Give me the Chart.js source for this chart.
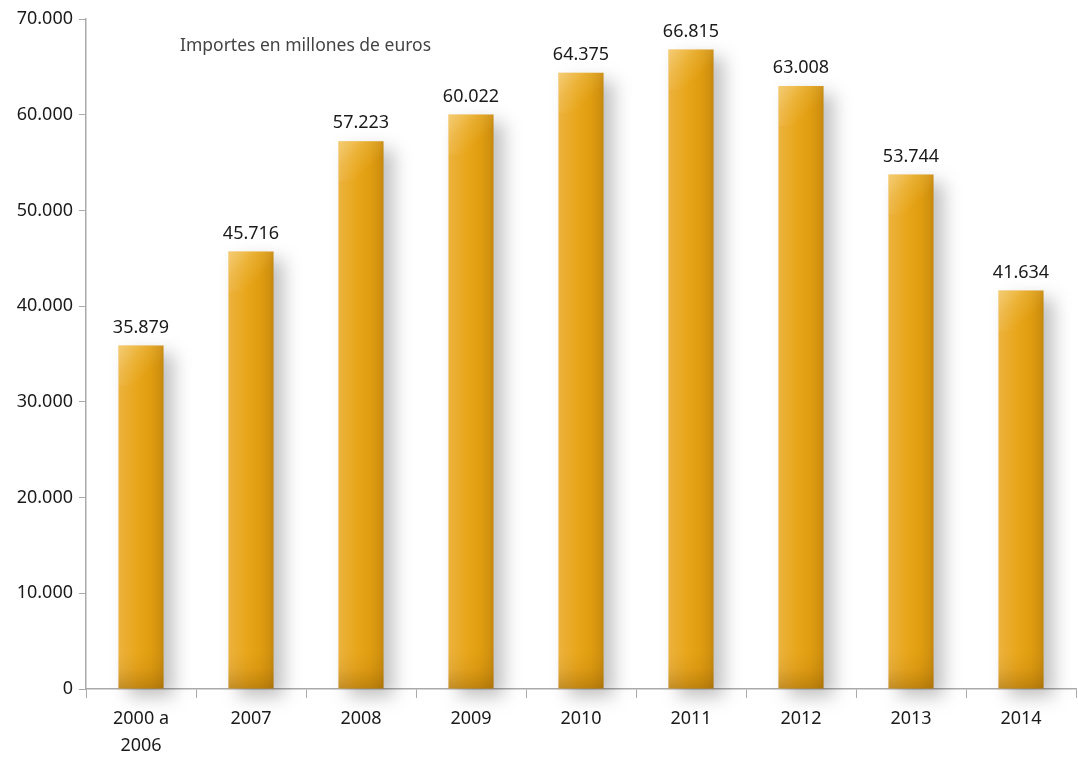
<!DOCTYPE html>
<html>
<head>
<meta charset="utf-8">
<script src="https://cdn.jsdelivr.net/npm/chart.js@4"></script>
<style>
    html, body { margin: 0; padding: 0; background: #fff; }
    #wrap { width: 1078px; height: 757px; }
</style>
</head>
<body>
<div id="wrap"><canvas id="importChart"></canvas></div>
<script>
// Data
const categories = [['2000 a', '2006'], '2007', '2008', '2009', '2010', '2011', '2012', '2013', '2014'];
const importes = [35879, 45716, 57223, 60022, 64375, 66815, 63008, 53744, 41634];
const yTicks = [0, 10000, 20000, 30000, 40000, 50000, 60000, 70000];
const chartTitle = 'Importes en millones de euros';

const FONT = '"Noto Sans", "Open Sans", sans-serif';
const fmt = v => v.toString().replace(/\B(?=(\d{3})+(?!\d))/g, '.');

// horizontal gold gradient per bar
function barFill(context) {
    const chart = context.chart;
    const x = chart.scales.x;
    if (!x || !chart.chartArea) return '#e3a010';
    const cx = x.getPixelForValue(context.dataIndex);
    const w = (x.width / categories.length) * 0.41;
    const g = chart.ctx.createLinearGradient(cx - w / 2, 0, cx + w / 2, 0);
    g.addColorStop(0, '#ecb23e');
    g.addColorStop(0.4, '#e8a61b');
    g.addColorStop(0.7, '#e09d10');
    g.addColorStop(0.9, '#d2920f');
    g.addColorStop(1, '#c4880f');
    return g;
}

// shadow behind the bars
const barShadow = {
    id: 'barShadow',
    beforeDatasetDraw(chart) {
        const ctx = chart.ctx;
        ctx.save();
        ctx.shadowColor = 'rgba(0,0,0,0.25)';
        ctx.shadowBlur = 18;
        ctx.shadowOffsetX = 10;
        ctx.shadowOffsetY = 8;
    },
    afterDatasetDraw(chart) {
        chart.ctx.restore();
    }
};

// top highlight / bottom darkening + value labels
const barDecor = {
    id: 'barDecor',
    afterDatasetsDraw(chart) {
        const ctx = chart.ctx;
        const meta = chart.getDatasetMeta(0);
        meta.data.forEach((bar, i) => {
            const left = bar.x - bar.width / 2;
            const w = bar.width;
            const h = bar.base - bar.y;
            ctx.save();
            // soft light at the top-left corner
            let g = ctx.createLinearGradient(left, bar.y, left + w * 0.6, bar.y + 30);
            g.addColorStop(0, 'rgba(250,225,160,0.55)');
            g.addColorStop(0.5, 'rgba(250,225,160,0.2)');
            g.addColorStop(1, 'rgba(250,225,160,0)');
            ctx.fillStyle = g;
            ctx.fillRect(left, bar.y, w, Math.min(40, h));
            // darker base
            g = ctx.createLinearGradient(0, bar.base - 36, 0, bar.base);
            g.addColorStop(0, 'rgba(110,65,0,0)');
            g.addColorStop(0.45, 'rgba(110,65,0,0.07)');
            g.addColorStop(0.8, 'rgba(110,65,0,0.22)');
            g.addColorStop(1, 'rgba(110,65,0,0.32)');
            ctx.fillStyle = g;
            ctx.fillRect(left, bar.base - 36, w, 36);

            ctx.fillStyle = '#1a1a1a';
            ctx.font = '18px ' + FONT;
            ctx.textAlign = 'center';
            ctx.textBaseline = 'bottom';
            ctx.fillText(fmt(importes[i]), bar.x, bar.y - 9);
            ctx.restore();
        });
    }
};

// caption inside the plot
const captionText = {
    id: 'captionText',
    afterDraw(chart) {
        const ctx = chart.ctx;
        ctx.save();
        ctx.fillStyle = '#444';
        ctx.font = '17.5px ' + FONT;
        ctx.textBaseline = 'middle';
        ctx.fillText(chartTitle, chart.chartArea.left + 94, chart.chartArea.top + 27);
        ctx.restore();
    }
};

new Chart(document.getElementById('importChart'), {
    type: 'bar',
    data: {
        labels: categories,
        datasets: [{
            data: importes,
            backgroundColor: barFill,
            borderWidth: 0,
            barPercentage: 0.41,
            categoryPercentage: 1,
            clip: false
        }]
    },
    options: {
        responsive: true,
        maintainAspectRatio: false,
        animation: false,
        layout: { padding: { top: 19, right: 2, left: 0, bottom: 0 } },
        plugins: {
            legend: { display: false },
            tooltip: { enabled: false }
        },
        scales: {
            x: {
                offset: true,
                grid: {
                    display: true,
                    offset: true,
                    drawOnChartArea: false,
                    tickLength: 9,
                    color: '#aaa'
                },
                border: { color: '#aaa', width: 1.5 },
                ticks: {
                    color: '#1a1a1a',
                    font: { family: FONT, size: 18, lineHeight: 1.5 },
                    padding: 7,
                    maxRotation: 0
                },
                afterFit(scale) { scale.height = 68; }
            },
            y: {
                min: 0,
                max: 70000,
                afterBuildTicks(scale) {
                    scale.ticks = yTicks.map(v => ({ value: v }));
                },
                grid: {
                    display: true,
                    drawOnChartArea: false,
                    tickLength: 7,
                    color: '#aaa'
                },
                border: { color: '#aaa', width: 1.5 },
                ticks: {
                    color: '#1a1a1a',
                    font: { family: FONT, size: 18 },
                    padding: 6,
                    callback: v => fmt(v)
                },
                afterFit(scale) { scale.width = 86; }
            }
        }
    },
    plugins: [barShadow, barDecor, captionText]
});
</script>
</body>
</html>
